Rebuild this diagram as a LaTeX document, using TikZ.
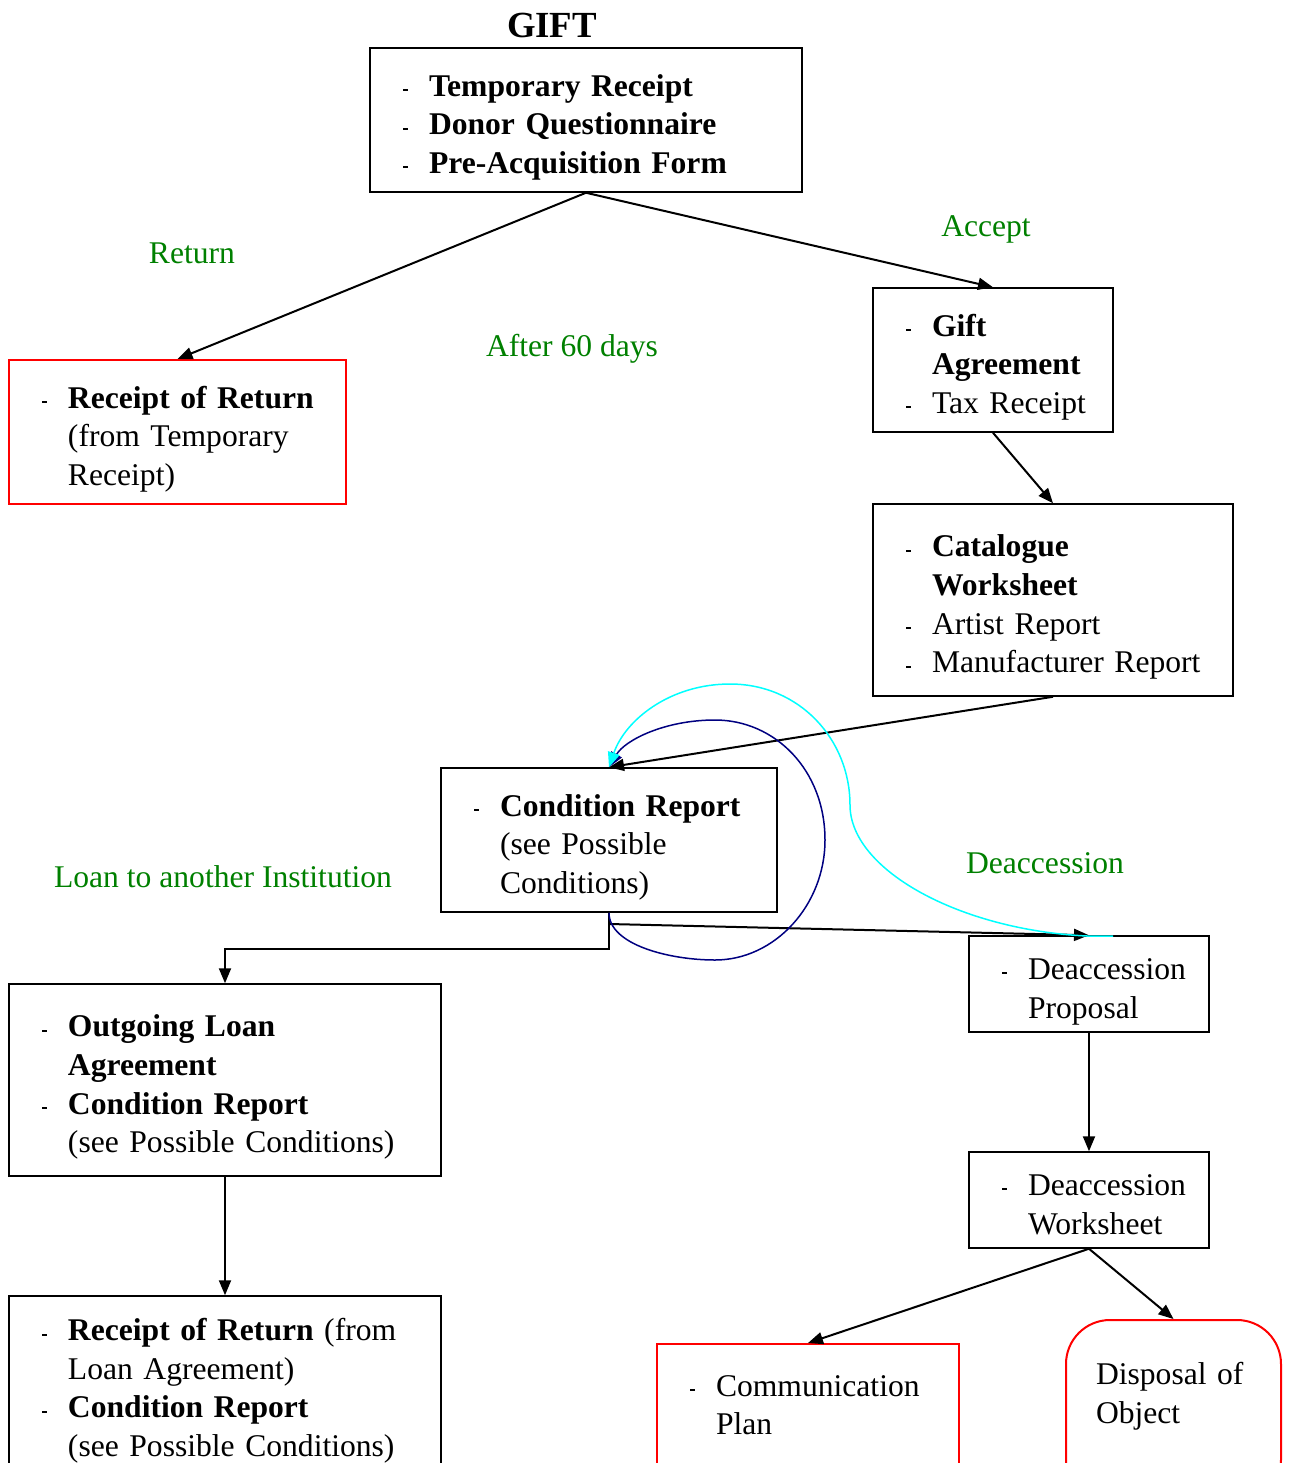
\documentclass[tikz,border=0pt]{standalone}
\usepackage{fontspec}
\setmainfont{Liberation Serif}
\usetikzlibrary{arrows.meta}
\definecolor{lblgreen}{RGB}{0,128,0}
\definecolor{loopnavy}{RGB}{0,0,128}
\definecolor{loopcyan}{RGB}{0,255,255}
\newcommand{\bul}{\rule[2.5pt]{2.5pt}{1pt}}
\newcommand{\doclist}[1]{\raisebox{-3.5pt}[\height][\depth]{\begin{tabular}{@{}p{13pt}@{}l@{}}#1\end{tabular}}}

\begin{document}
\begin{tikzpicture}[x=0.5pt,y=-0.5pt,
  every node/.style={font=\fontsize{15.8}{19.3}\selectfont},
  box/.style={draw, line width=0.75pt, inner xsep=16.5pt, inner ysep=0pt, align=left},
  redbox/.style={box, draw=red, line width=1pt},
  lbl/.style={text=lblgreen},
  arr/.style={-{Triangle[length=7.5pt,width=6pt]}, line width=1pt}]
\useasboundingbox (0,0) rectangle (1290,1463);
\clip (0,0) rectangle (1290,1463);

\node[font=\fontsize{18.4}{22}\selectfont\bfseries] (gifttitle) at (552,25) {GIFT};

\node[box, text width=183pt, minimum height=72pt] (top) at (586,120)
  {\doclist{\bul & \textbf{Temporary Receipt}\\ \bul & \textbf{Donor Questionnaire}\\ \bul & \textbf{Pre-Acquisition Form}}};
\node[redbox, text width=135.5pt, minimum height=72pt] (ror) at (177.5,432)
  {\doclist{\bul & \textbf{Receipt of Return}\\ & (from Temporary\\ & Receipt)}};
\node[box, text width=87pt, minimum height=72pt] (gift) at (993,360)
  {\doclist{\bul & \textbf{Gift}\\ & \textbf{Agreement}\\ \bul & Tax Receipt}};
\node[box, text width=147pt, minimum height=96pt] (cat) at (1053,600)
  {\doclist{\bul & \textbf{Catalogue}\\ & \textbf{Worksheet}\\ \bul & Artist Report\\ \bul & Manufacturer Report}};
\node[box, text width=135pt, minimum height=72pt] (cond) at (609,840)
  {\doclist{\bul & \textbf{Condition Report}\\ & (see Possible\\ & Conditions)}};
\node[box, text width=183pt, minimum height=96pt] (loan) at (225,1080)
  {\doclist{\bul & \textbf{Outgoing Loan}\\ & \textbf{Agreement}\\ \bul & \textbf{Condition Report}\\ & (see Possible Conditions)}};
\node[box, text width=183pt, minimum height=107pt] (rob) at (225,1403)
  {\doclist{\bul & \textbf{Receipt of Return} (from\\ & Loan Agreement)\\ \bul & \textbf{Condition Report}\\ & (see Possible Conditions)\\ & }};
\node[box, text width=87pt, minimum height=48pt] (dp) at (1089,984)
  {\doclist{\bul & Deaccession\\ & Proposal}};
\node[box, text width=87pt, minimum height=48pt] (dw) at (1089,1200)
  {\doclist{\bul & Deaccession\\ & Worksheet}};
\node[redbox, text width=118pt, minimum height=76pt] (comm) at (808,1420)
  {\doclist{\bul & Communication\\ & Plan\\ & }};
\node[redbox, rounded corners=22pt, inner xsep=15pt, text width=77.5pt, minimum height=92pt] (disp) at (1173.5,1412)
  {Disposal of\\ Object\\ \mbox{}};

\node[lbl] (lreturn) at (192,253) {Return};
\node[lbl] (laccept) at (986,229) {Accept};
\node[lbl] (lafter) at (572,349) {After 60 days};
\node[lbl] (lloan) at (223,877) {Loan to another Institution};
\node[lbl] (ldeacc) at (1045,863) {Deaccession};

\draw[arr] (top.south) -- (ror.north);
\draw[arr] (top.south) -- (gift.north);
\draw[arr] (gift.south) -- (cat.north);
\draw[arr] (cat.south) -- (cond.north);
\draw[arr] (cond.south) -- ++(0,36) -| (loan.north);
\coordinate (split) at (609,924);
\draw[arr] (split) -- (dp.north);
\draw[arr] (loan.south) -- (rob.north);
\draw[arr] (dp.south) -- (dw.north);
\draw[arr] (dw.south) -- (comm.north);
\draw[arr] (dw.south) -- (disp.north);

\draw[arr, loopnavy, line width=0.75pt] (cond.south) .. controls (609,945) and (670,960) .. (715,960)
  .. controls (775,960) and (825,905) .. (825,840)
  .. controls (825,770) and (775,720) .. (715,720)
  .. controls (665,720) and (625,740) .. (cond.north);
\coordinate (dpc) at (1113,936);
\draw[arr, loopcyan, line width=0.75pt] (dpc) -- (1087,936) .. controls (960,930) and (850,870) .. (850,805)
  .. controls (850,740) and (800,684) .. (730,684)
  .. controls (670,684) and (625,720) .. (cond.north);
\end{tikzpicture}
\end{document}
